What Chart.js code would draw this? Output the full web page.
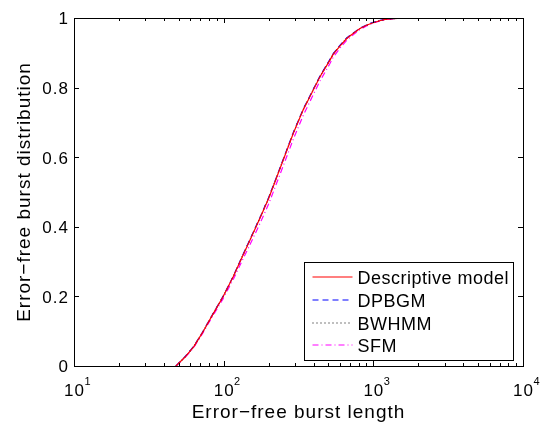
<!DOCTYPE html>
<html>
<head>
<meta charset="utf-8">
<script src="https://cdn.jsdelivr.net/npm/chart.js@4/dist/chart.umd.min.js"></script>
<style>
  html, body { margin: 0; padding: 0; background: #fff; }
  canvas { display: block; }
</style>
</head>
<body>
<canvas id="cdfChart" width="546" height="425"></canvas>
<script>
const FONT = '"Liberation Sans", Arial, Helvetica, sans-serif';

// burst lengths (x) shared by all curves
const burstLengths = [48, 55, 63, 72, 83, 99, 116, 132, 150, 175, 199, 214, 250, 292, 340, 387, 440, 513, 540, 600, 664, 740, 814, 900, 975, 1100, 1227, 1450, 1668, 1900];

const descriptiveCdf = [0, 0.025, 0.055, 0.095, 0.142, 0.199, 0.257, 0.31, 0.362, 0.425, 0.48, 0.515, 0.592, 0.669, 0.736, 0.784, 0.831, 0.879, 0.896, 0.92, 0.941, 0.957, 0.970, 0.979, 0.985, 0.992, 0.997, 0.999, 1.0, 1.0];
const dpbgmCdf = [0, 0.026, 0.056, 0.096, 0.143, 0.2, 0.258, 0.312, 0.364, 0.427, 0.482, 0.517, 0.594, 0.671, 0.738, 0.786, 0.833, 0.881, 0.898, 0.922, 0.943, 0.958, 0.971, 0.98, 0.986, 0.993, 0.997, 0.999, 1.0, 1.0];
const bwhmmCdf = [0, 0.025, 0.055, 0.095, 0.142, 0.199, 0.257, 0.311, 0.363, 0.426, 0.481, 0.516, 0.593, 0.67, 0.737, 0.785, 0.832, 0.88, 0.897, 0.921, 0.942, 0.957, 0.970, 0.979, 0.985, 0.992, 0.997, 0.999, 1.0, 1.0];
const sfmCdf = [0, 0.024, 0.053, 0.092, 0.138, 0.193, 0.249, 0.3, 0.349, 0.41, 0.464, 0.499, 0.575, 0.652, 0.72, 0.77, 0.819, 0.869, 0.888, 0.914, 0.936, 0.953, 0.967, 0.977, 0.984, 0.991, 0.996, 0.999, 1.0, 1.0];

const seriesNames = ["Descriptive model", "DPBGM", "BWHMM", "SFM"];
const seriesColors = ["#ff0000", "#0000ff", "#000000", "#ff00ff"];
const seriesDashes = [[], [6, 4], [1, 3], [6, 3, 1, 3]];
const xDecades = [10, 100, 1000, 10000];
const yTicks = [0, 0.2, 0.4, 0.6, 0.8, 1];
const xTitle = "Error\u2212free burst length";
const yTitle = "Error\u2212free burst distribution";

const toPoints = (ys) => burstLengths.map((x, i) => ({ x: x, y: ys[i] }));

// matlab style box, inward ticks, labels and legend
const matlabAxes = {
  id: "matlabAxes",
  afterDatasetsDraw(chart) {
    const { ctx, chartArea: a, scales } = chart;
    const xs = scales.x, ys = scales.y;
    ctx.save();
    ctx.strokeStyle = "#000";
    ctx.lineWidth = 1;
    ctx.setLineDash([]);

    // ticks on x (bottom + top)
    ctx.beginPath();
    for (let d = 10; d < 10000; d *= 10) {
      for (let m = 1; m <= 10; m++) {
        const px = Math.round(xs.getPixelForValue(d * m)) + 0.5;
        const len = (m === 1 || m === 10) ? 5 : 3;
        ctx.moveTo(px, a.bottom); ctx.lineTo(px, a.bottom - len);
        ctx.moveTo(px, a.top); ctx.lineTo(px, a.top + len);
      }
    }
    // ticks on y (left + right)
    yTicks.forEach((v) => {
      const py = Math.round(ys.getPixelForValue(v)) + 0.5;
      ctx.moveTo(a.left, py); ctx.lineTo(a.left + 5, py);
      ctx.moveTo(a.right, py); ctx.lineTo(a.right - 5, py);
    });
    ctx.stroke();

    // box
    ctx.strokeRect(Math.round(a.left) + 0.5, Math.round(a.top) + 0.5,
      Math.round(a.right - a.left), Math.round(a.bottom - a.top));

    ctx.fillStyle = "#000";
    ctx.textBaseline = "alphabetic";
    ctx.letterSpacing = "1px";

    // x labels 10^n
    xDecades.forEach((v) => {
      const px = xs.getPixelForValue(v);
      ctx.font = "17px " + FONT;
      ctx.textAlign = "center";
      ctx.fillText("10", px + 0.5, a.bottom + 30);
      const w = ctx.measureText("10").width;
      ctx.font = "11px " + FONT;
      ctx.textAlign = "left";
      ctx.fillText(String(Math.round(Math.log10(v))), px + w / 2, a.bottom + 19);
    });

    // y labels
    ctx.font = "17px " + FONT;
    ctx.textAlign = "right";
    yTicks.forEach((v) => {
      const py = ys.getPixelForValue(v);
      ctx.fillText(String(Number(v.toFixed(1))), a.left - 5, py + 6.3);
    });

    // axis titles
    ctx.font = "19px " + FONT;
    ctx.textAlign = "center";
    ctx.fillText(xTitle, (a.left + a.right) / 2, 418);
    ctx.save();
    ctx.translate(29.5, (a.top + a.bottom) / 2);
    ctx.rotate(-Math.PI / 2);
    ctx.fillText(yTitle, 0, 0);
    ctx.restore();

    // legend box
    const lw = 209, lh = 98;
    const lx = Math.round(a.right - 10 - lw) + 0.5;
    const ly = Math.round(a.bottom - 6 - lh) + 0.5;
    ctx.fillStyle = "#fff";
    ctx.fillRect(lx, ly, lw, lh);
    ctx.strokeStyle = "#000";
    ctx.strokeRect(lx, ly, lw, lh);
    ctx.font = "18px " + FONT;
    ctx.letterSpacing = "0.5px";
    chart.data.datasets.forEach((ds, i) => {
      const ry = Math.round(ly + 14.5 + i * 22.8);
      ctx.strokeStyle = seriesColors[i];
      ctx.lineWidth = 1.2;
      ctx.setLineDash(seriesDashes[i]);
      ctx.beginPath();
      ctx.moveTo(lx + 8, ry); ctx.lineTo(lx + 48, ry);
      ctx.stroke();
      ctx.setLineDash([]);
      ctx.fillStyle = "#000";
      ctx.textAlign = "left";
      ctx.fillText(ds.label, lx + 53, ry + 7);
    });
    ctx.restore();
  },
};

const config = {
  type: "line",
  data: {
    datasets: seriesNames.map((name, i) => ({
      label: name,
      data: toPoints([descriptiveCdf, dpbgmCdf, bwhmmCdf, sfmCdf][i]),
      borderColor: seriesColors[i],
      borderDash: seriesDashes[i],
    })),
  },
  options: {
    responsive: false,
    animation: false,
    devicePixelRatio: 1,
    layout: { padding: { top: 18, right: 23, left: 0, bottom: 0 } },
    elements: {
      point: { radius: 0 },
      line: { borderWidth: 1.2, tension: 0, fill: false },
    },
    plugins: {
      legend: { display: false },
      tooltip: { enabled: false },
    },
    scales: {
      x: {
        type: "logarithmic",
        min: 10,
        max: 10000,
        grid: { display: false },
        border: { display: false },
        ticks: { display: false },
        afterFit: (s) => { s.height = 59; },
      },
      y: {
        min: 0,
        max: 1,
        grid: { display: false, drawTicks: false },
        border: { display: false },
        ticks: { display: false, stepSize: 0.2 },
        afterFit: (s) => { s.width = 74; },
      },
    },
  },
  plugins: [matlabAxes],
};

const myChart = new Chart(document.getElementById("cdfChart"), config);
</script>
</body>
</html>
